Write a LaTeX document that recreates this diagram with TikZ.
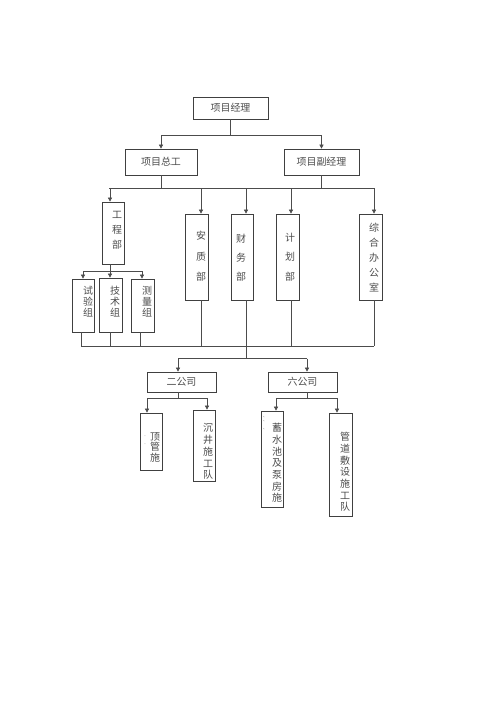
\documentclass[tikz,border=0pt]{standalone}
\usepackage{fontspec}
\setmainfont{Noto Sans CJK SC}
\usetikzlibrary{arrows.meta}
\tikzset{
  box/.style={draw=black!75, line width=0.7bp, inner sep=0pt, minimum width=#1},
  hbox/.style={box=#1, minimum height=22bp, font=\fontsize{10}{12}\selectfont, text=black!70},
  conn/.style={draw=black!70, line width=0.6bp},
  arr/.style={conn, -{Triangle[width=4bp,length=4bp]}},
  vtext/.style={align=center, inner sep=0pt, text=black!70, font=\fontsize{10}{#1}\selectfont},
  tinymark/.style={inner sep=0pt, text=black!60, font=\fontsize{4}{4}\selectfont}
}
\begin{document}
\begin{tikzpicture}[x=1bp,y=-1bp]
\useasboundingbox[fill=white] (0,0) rectangle (500,708);
% top levels
\node[hbox=75bp, minimum height=22bp] (pm) at (230.5,108) {项目经理};
\node[hbox=72bp, minimum height=26bp] (zg) at (161,162) {项目总工};
\node[hbox=75bp, minimum height=26bp] (fj) at (321.5,162) {项目副经理};
% departments
\node[box=22bp, minimum height=62bp] (gc) at (113,233) {};
\node[box=23bp, minimum height=86bp] (az) at (196.5,257) {};
\node[box=22bp, minimum height=86bp] (cw) at (242,257) {};
\node[box=23bp, minimum height=86bp] (jh) at (287.5,257) {};
\node[box=23bp, minimum height=86bp] (zh) at (370.5,257) {};
% groups
\node[box=22bp, minimum height=53bp] (sy) at (83,305.5) {};
\node[box=23bp, minimum height=54bp] (js) at (110.5,305) {};
\node[box=23bp, minimum height=53bp] (cl) at (142.5,305.5) {};
% companies
\node[hbox=69bp, minimum height=20bp] (eg) at (181.5,382) {二公司};
\node[hbox=69bp, minimum height=20bp] (lg) at (302.5,382) {六公司};
% teams
\node[box=22bp, minimum height=57bp] (dg) at (151,441.5) {};
\node[box=22bp, minimum height=71bp] (sj) at (204,445.5) {};
\node[box=22bp, minimum height=96bp] (xs) at (272,459) {};
\node[box=23bp, minimum height=103bp] (gd) at (340.5,464.5) {};
% vertical texts
\node[vtext=15bp] (tgc) at (117,230) {工\\程\\部};
\node[vtext=20.5bp] (taz) at (201,256.5) {安\\质\\部};
\node[vtext=19bp] (tcw) at (241,258) {财\\务\\部};
\node[vtext=19.5bp] (tjh) at (290,257) {计\\划\\部};
\node[vtext=15bp] (tzh) at (374,258) {综\\合\\办\\公\\室};
\node[vtext=11bp] (tsy) at (88,302) {试\\验\\组};
\node[vtext=11bp] (tjs) at (115,302) {技\\术\\组};
\node[vtext=11bp] (tcl) at (147,302) {测\\量\\组};
\node[vtext=10.5bp] (tdg) at (155,447) {顶\\管\\施};
\node[vtext=11.8bp] (tsj) at (208,451.5) {沉\\井\\施\\工\\队};
\node[vtext=11.7bp] (txs) at (277,463) {蓄\\水\\池\\及\\泵\\房\\施};
\node[vtext=11.7bp] (tgd) at (345,472) {管\\道\\敷\\设\\施\\工\\队};
% tiny marks
\node[tinymark] (m1) at (145,437) {-};
\node[tinymark] (m2) at (145,445) {-};
\node[tinymark] (m3) at (265,417) {、};
\node[tinymark] (m4) at (265,421) {、};
\node[tinymark] (m5) at (265,429) {、};
% bus coordinates
\coordinate (b1) at (230,135);
\coordinate (b2) at (230,188);
\coordinate (b3) at (110,271);
\coordinate (b4) at (246,346);
\coordinate (b5) at (246,358.5);
\coordinate (b6) at (178,398);
\coordinate (b7) at (307,398);
% level 1
\draw[conn] (pm.south) -- (pm.south |- b1);
\draw[conn] (zg.north |- b1) -- (fj.north |- b1);
\draw[arr] (zg.north |- b1) -- (zg.north);
\draw[arr] (fj.north |- b1) -- (fj.north);
% level 2
\draw[conn] (zg.south) -- (zg.south |- b2);
\draw[conn] (fj.south) -- (fj.south |- b2);
\draw[conn] ([xshift=-4bp]gc.north |- b2) -- ([xshift=3.5bp]zh.north |- b2);
\draw[arr] ([xshift=-3bp]gc.north |- b2) -- ([xshift=-3bp]gc.north);
\draw[arr] ([xshift=4.5bp]az.north |- b2) -- ([xshift=4.5bp]az.north);
\draw[arr] ([xshift=4bp]cw.north |- b2) -- ([xshift=4bp]cw.north);
\draw[arr] ([xshift=3.5bp]jh.north |- b2) -- ([xshift=3.5bp]jh.north);
\draw[arr] ([xshift=3.5bp]zh.north |- b2) -- ([xshift=3.5bp]zh.north);
% groups under gc
\draw[conn] ([xshift=-3bp]gc.south) -- ([xshift=-3bp]gc.south |- b3);
\draw[conn] (sy.north |- b3) -- ([xshift=-0.5bp]cl.north |- b3);
\draw[arr] (sy.north |- b3) -- (sy.north);
\draw[arr] ([xshift=-0.5bp]js.north |- b3) -- ([xshift=-0.5bp]js.north);
\draw[arr] ([xshift=-0.5bp]cl.north |- b3) -- ([xshift=-0.5bp]cl.north);
% bottom collector
\draw[conn] ([xshift=-2bp]sy.south) -- ([xshift=-2bp]sy.south |- b4);
\draw[conn] ([xshift=-0.5bp]js.south) -- ([xshift=-0.5bp]js.south |- b4);
\draw[conn] ([xshift=-2.5bp]cl.south) -- ([xshift=-2.5bp]cl.south |- b4);
\draw[conn] ([xshift=4.5bp]az.south) -- ([xshift=4.5bp]az.south |- b4);
\draw[conn] ([xshift=3.5bp]jh.south) -- ([xshift=3.5bp]jh.south |- b4);
\draw[conn] ([xshift=3.5bp]zh.south) -- ([xshift=3.5bp]zh.south |- b4);
\draw[conn] ([xshift=-2bp]sy.south |- b4) -- ([xshift=3.5bp]zh.south |- b4);
\draw[conn] ([xshift=4bp]cw.south) -- ([xshift=4bp]cw.south |- b5);
% companies
\draw[conn] ([xshift=-3.5bp]eg.north |- b5) -- ([xshift=4.5bp]lg.north |- b5);
\draw[arr] ([xshift=-3.5bp]eg.north |- b5) -- ([xshift=-3.5bp]eg.north);
\draw[arr] ([xshift=4.5bp]lg.north |- b5) -- ([xshift=4.5bp]lg.north);
% teams under eg
\draw[conn] ([xshift=-3.5bp]eg.south) -- ([xshift=-3.5bp]eg.south |- b6);
\draw[conn] ([xshift=-4bp]dg.north |- b6) -- ([xshift=3bp]sj.north |- b6);
\draw[arr] ([xshift=-4bp]dg.north |- b6) -- ([xshift=-4bp]dg.north);
\draw[arr] ([xshift=3bp]sj.north |- b6) -- ([xshift=3bp]sj.north);
% teams under lg
\draw[conn] ([xshift=4.5bp]lg.south) -- ([xshift=4.5bp]lg.south |- b7);
\draw[conn] ([xshift=4bp]xs.north |- b7) -- ([xshift=-3.5bp]gd.north |- b7);
\draw[arr] ([xshift=4bp]xs.north |- b7) -- ([xshift=4bp]xs.north);
\draw[arr] ([xshift=-3.5bp]gd.north |- b7) -- ([xshift=-3.5bp]gd.north);
\end{tikzpicture}
\end{document}
